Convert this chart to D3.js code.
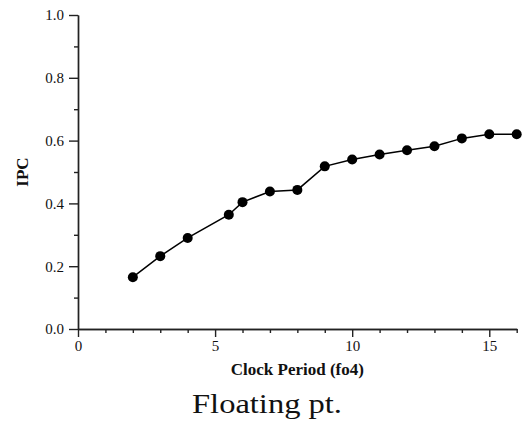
<!DOCTYPE html>
<html>
<head>
<meta charset="utf-8">
<script src="https://cdn.jsdelivr.net/npm/d3@7"></script>
<style>
  html, body { margin: 0; padding: 0; background: #fff; }
  svg { display: block; }
</style>
</head>
<body>
<svg id="chart" width="525" height="423"></svg>
<script>
const clockPeriod = [2, 3, 4, 5.5, 6, 7, 8, 9, 10, 11, 12, 13, 14, 15, 16];
const ipc = [0.165, 0.232, 0.290, 0.364, 0.404, 0.438, 0.443, 0.518, 0.540, 0.556, 0.569, 0.582, 0.607, 0.620, 0.620];
const xMajorTicks = [0, 5, 10, 15];
const xMinorTicks = [1, 2, 3, 4, 6, 7, 8, 9, 11, 12, 13, 14, 16];
const yMajorTicks = [0.0, 0.2, 0.4, 0.6, 0.8, 1.0];
const yMinorTicks = [0.1, 0.3, 0.5, 0.7, 0.9];
const xTitle = "Clock Period (fo4)";
const yTitle = "IPC";
const caption = "Floating pt.";

const svg = d3.select("#chart");
const x = d3.scaleLinear().domain([0, 16]).range([78, 516.7]);
const y = d3.scaleLinear().domain([0, 1]).range([329, 15]);

const serif = "'Liberation Serif', 'Times New Roman', serif";
const axisColor = "#222";

function styleAxis(g) {
  g.selectAll("path, line").attr("stroke", axisColor).attr("stroke-width", 1.4);
  g.selectAll("text").attr("font-family", serif).attr("font-size", 15).attr("fill", "#111");
}

// y axis
svg.append("g").attr("transform", `translate(${x(0)},0)`)
  .call(d3.axisLeft(y).tickValues(yMinorTicks).tickSize(4).tickSizeOuter(0).tickFormat(""))
  .call(styleAxis);
svg.append("g").attr("transform", `translate(${x(0)},0)`)
  .call(d3.axisLeft(y).tickValues(yMajorTicks).tickSize(9).tickSizeOuter(0).tickPadding(5).tickFormat(d3.format(".1f")))
  .call(styleAxis);

// x axis
svg.append("g").attr("transform", `translate(0,${y(0)})`)
  .call(d3.axisBottom(x).tickValues(xMinorTicks).tickSize(4).tickSizeOuter(0).tickFormat(""))
  .call(styleAxis);
svg.append("g").attr("transform", `translate(0,${y(0)})`)
  .call(d3.axisBottom(x).tickValues(xMajorTicks).tickSize(8).tickSizeOuter(0).tickPadding(3).tickFormat(d3.format("d")))
  .call(styleAxis);

// titles
svg.append("text")
  .attr("x", (x(0) + x(16)) / 2).attr("y", 375)
  .attr("text-anchor", "middle")
  .attr("font-family", serif).attr("font-weight", "bold").attr("font-size", 17)
  .attr("fill", "#111")
  .text(xTitle);

svg.append("text")
  .attr("transform", `translate(28,${(y(0) + y(1)) / 2}) rotate(-90)`)
  .attr("text-anchor", "middle")
  .attr("font-family", serif).attr("font-weight", "bold").attr("font-size", 17)
  .attr("fill", "#111")
  .text(yTitle);

svg.append("text")
  .attr("x", 267).attr("y", 413)
  .attr("text-anchor", "middle")
  .attr("font-family", serif).attr("font-size", 28)
  .attr("textLength", 150).attr("lengthAdjust", "spacingAndGlyphs")
  .attr("fill", "#111")
  .text(caption);

// data
const data = clockPeriod.map((c, i) => ({ c, v: ipc[i] }));
svg.append("path")
  .datum(data)
  .attr("fill", "none")
  .attr("stroke", "#000")
  .attr("stroke-width", 1.5)
  .attr("d", d3.line().x(d => x(d.c)).y(d => y(d.v)));

svg.append("g").selectAll("circle")
  .data(data)
  .join("circle")
  .attr("cx", d => x(d.c))
  .attr("cy", d => y(d.v))
  .attr("r", 5)
  .attr("fill", "#000");
</script>
</body>
</html>
